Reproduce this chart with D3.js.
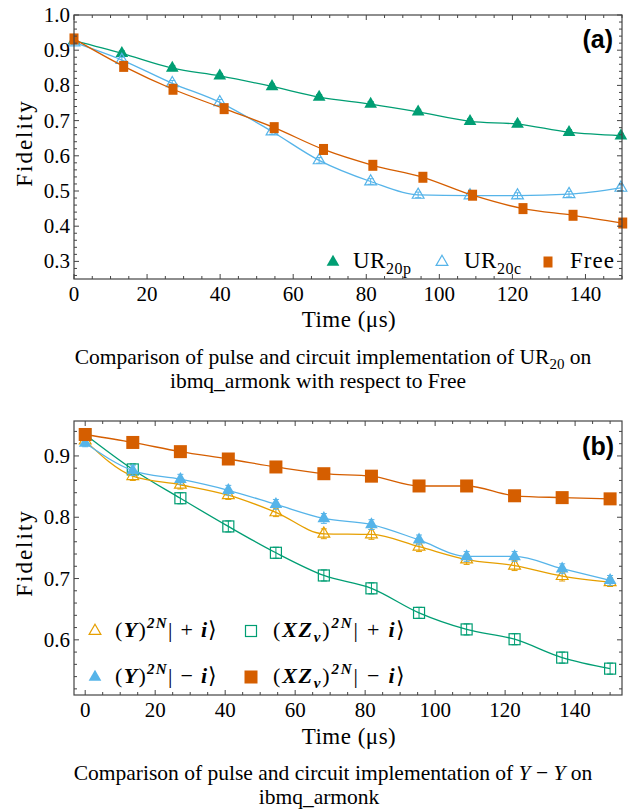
<!DOCTYPE html>
<html>
<head>
<meta charset="utf-8">
<script src="https://cdn.jsdelivr.net/npm/d3@7"></script>
<style>
  body { margin: 0; background: #fff; }
  svg { display: block; font-family: "Liberation Serif", serif; }
</style>
</head>
<body>
<svg id="chart" width="634" height="812"></svg>
<script>
// ---- panel (a) data ----
const timeTriA = [0, 13.1, 26.9, 39.9, 54.2, 67.1, 81.2, 94.2, 108.4, 121.4, 135.5, 149.7];
const timeFreeA = [0, 13.6, 27.1, 41.1, 54.8, 68.3, 81.8, 95.5, 109.1, 122.9, 136.6, 150.2];
const ur20p = [0.927, 0.891, 0.849, 0.827, 0.797, 0.767, 0.747, 0.725, 0.698, 0.690, 0.667, 0.657];
const ur20pErr = [0.006, 0.007, 0.007, 0.007, 0.007, 0.007, 0.007, 0.007, 0.007, 0.007, 0.007, 0.007];
const ur20c = [0.922, 0.872, 0.806, 0.752, 0.669, 0.587, 0.527, 0.489, 0.487, 0.487, 0.491, 0.509];
const ur20cErr = [0.006, 0.008, 0.008, 0.008, 0.008, 0.008, 0.008, 0.008, 0.008, 0.008, 0.008, 0.008];
const free = [0.932, 0.854, 0.789, 0.734, 0.680, 0.618, 0.573, 0.539, 0.488, 0.450, 0.431, 0.409];

// ---- panel (b) data ----
const timeB = [0, 13.6, 27.2, 40.9, 54.5, 68.2, 81.8, 95.4, 109, 122.7, 136.3, 150];
const yPlus = [0.925, 0.867, 0.853, 0.836, 0.808, 0.773, 0.772, 0.752, 0.731, 0.721, 0.704, 0.694];
const yPlusErr = [0.006, 0.007, 0.007, 0.007, 0.007, 0.008, 0.008, 0.008, 0.008, 0.008, 0.008, 0.007];
const yMinus = [0.921, 0.876, 0.862, 0.844, 0.821, 0.798, 0.788, 0.763, 0.736, 0.736, 0.716, 0.697];
const yMinusErr = [0.006, 0.008, 0.008, 0.008, 0.008, 0.008, 0.008, 0.008, 0.008, 0.008, 0.008, 0.008];
const xzPlus = [0.935, 0.878, 0.831, 0.785, 0.742, 0.705, 0.684, 0.644, 0.617, 0.601, 0.571, 0.553];
const xzPlusErr = [0.008, 0.009, 0.009, 0.009, 0.009, 0.009, 0.009, 0.009, 0.009, 0.009, 0.009, 0.009];
const xzMinus = [0.935, 0.922, 0.907, 0.895, 0.882, 0.871, 0.867, 0.851, 0.851, 0.835, 0.832, 0.830];

const yTicksA = [0.3, 0.4, 0.5, 0.6, 0.7, 0.8, 0.9, 1.0];
const yTicksB = [0.6, 0.7, 0.8, 0.9];
const xTicks = [0, 20, 40, 60, 80, 100, 120, 140];

const green = "#009E73", blue = "#56B4E9", orange = "#D55E00", yellow = "#E69F00";
const frameColor = "#444";

const svg = d3.select("#chart");

function drawFrame(g, x, y, yTicks, yMinorStep) {
    const [x0, x1] = x.range();
    const [y0, y1] = y.range(); // y0 bottom, y1 top
    g.append("rect")
        .attr("x", x0).attr("y", y1)
        .attr("width", x1 - x0).attr("height", y0 - y1)
        .attr("fill", "none").attr("stroke", frameColor).attr("stroke-width", 1.2);

    const [xa, xb] = x.domain();
    const xMinor = d3.range(Math.ceil(xa / 5) * 5, xb + 0.001, 5);
    xMinor.forEach(v => {
        const len = v % 20 === 0 ? 5 : 3;
        const px = x(v);
        g.append("line").attr("x1", px).attr("x2", px).attr("y1", y0).attr("y2", y0 - len)
            .attr("stroke", frameColor);
        g.append("line").attr("x1", px).attr("x2", px).attr("y1", y1).attr("y2", y1 + len)
            .attr("stroke", frameColor);
    });
    const [ya, yb] = y.domain();
    const yMinor = d3.range(Math.ceil(ya / yMinorStep - 1e-6) * yMinorStep, yb + 1e-6, yMinorStep);
    yMinor.forEach(v => {
        const major = yTicks.some(t => Math.abs(t - v) < 1e-6);
        const len = major ? 5 : 3;
        const py = y(v);
        g.append("line").attr("x1", x0).attr("x2", x0 + len).attr("y1", py).attr("y2", py)
            .attr("stroke", frameColor);
        g.append("line").attr("x1", x1).attr("x2", x1 - len).attr("y1", py).attr("y2", py)
            .attr("stroke", frameColor);
    });

    g.selectAll(null).data(xTicks.filter(v => v >= xa && v <= xb)).join("text")
        .attr("x", d => x(d)).attr("y", y0 + 22)
        .attr("text-anchor", "middle")
        .style("font-size", "21px")
        .text(d => d);

    g.selectAll(null).data(yTicks).join("text")
        .attr("x", x0 - 4).attr("y", d => y(d) + 7)
        .attr("text-anchor", "end")
        .style("font-size", "21px")
        .text(d => d3.format(".1f")(d));
}

function drawSeries(g, x, y, xs, ys, errs, color, marker, filled, size) {
    const pts = xs.map((t, i) => ({ t, v: ys[i], e: errs ? errs[i] : 0 }));
    g.append("path")
        .datum(pts)
        .attr("fill", "none").attr("stroke", color).attr("stroke-width", 1.3)
        .attr("d", d3.line().x(d => x(d.t)).y(d => y(d.v)).curve(d3.curveMonotoneX));

    if (errs) {
        pts.forEach(d => {
            const px = x(d.t);
            g.append("line").attr("x1", px).attr("x2", px)
                .attr("y1", y(d.v - d.e)).attr("y2", y(d.v + d.e))
                .attr("stroke", color).attr("stroke-width", 1);
            [d.v - d.e, d.v + d.e].forEach(v => {
                g.append("line").attr("x1", px - 3).attr("x2", px + 3)
                    .attr("y1", y(v)).attr("y2", y(v))
                    .attr("stroke", color).attr("stroke-width", 1);
            });
        });
    }

    pts.forEach(d => drawMarker(g, x(d.t), y(d.v), color, marker, filled, size));
}

function drawMarker(g, px, py, color, marker, filled, size) {
    if (marker === "tri") {
        g.append("path")
            .attr("transform", `translate(${px},${py})`)
            .attr("d", d3.symbol(d3.symbolTriangle, size[0]))
            .attr("fill", filled ? color : "none")
            .attr("stroke", color).attr("stroke-width", filled ? 0 : 1.2);
    } else {
        const [w, h] = size;
        g.append("rect")
            .attr("x", px - w / 2).attr("y", py - h / 2)
            .attr("width", w).attr("height", h)
            .attr("fill", filled ? color : "none")
            .attr("stroke", color).attr("stroke-width", filled ? 0 : 1.2);
    }
}

// math-ish label: parts = [[text, style, shift]]
function richText(g, px, py, parts, size, spacing) {
    const t = g.append("text").attr("x", px).attr("y", py)
        .style("font-size", size + "px")
        .style("letter-spacing", (spacing || 0) + "px");
    let prevShift = 0;
    parts.forEach(([s, style, shift]) => {
        shift = shift || 0;
        const sp = t.append("tspan").text(s).attr("dy", prevShift - shift);
        prevShift = shift;
        if (style && style.includes("i")) sp.style("font-style", "italic");
        if (style && style.includes("b")) sp.style("font-weight", "bold");
        if (shift !== 0) sp.style("font-size", Math.round(size * 0.68) + "px");
    });
    return t;
}

// ---------------- panel (a) ----------------
const xA = d3.scaleLinear().domain([0, 150]).range([74, 622]);
const yA = d3.scaleLinear().domain([0.25, 1.0]).range([279, 15]);
const gA = svg.append("g");

drawSeries(gA, xA, yA, timeTriA, ur20p, ur20pErr, green, "tri", true, [70]);
drawSeries(gA, xA, yA, timeTriA, ur20c, ur20cErr, blue, "tri", false, [60]);
drawSeries(gA, xA, yA, timeFreeA, free, null, orange, "sq", true, [9, 11]);
drawFrame(gA, xA, yA, yTicksA, 0.02);

gA.append("text").attr("x", 613).attr("y", 48).attr("text-anchor", "end")
    .style("font-family", "Liberation Sans, sans-serif").style("font-weight", "bold")
    .style("font-size", "25px").text("(a)");

drawMarker(gA, 333, 262, green, "tri", true, [70]);
richText(gA, 353, 268, [["UR"], ["20p", "", -6]], 23, 0.5);
drawMarker(gA, 442, 262, blue, "tri", false, [60]);
richText(gA, 464, 268, [["UR"], ["20c", "", -6]], 23, 0.5);
drawMarker(gA, 548, 262, orange, "sq", true, [9, 11]);
richText(gA, 570, 268, [["Free"]], 23, 1);

gA.append("text").attr("transform", "translate(32,143) rotate(-90)")
    .attr("text-anchor", "middle").style("font-size", "23px").style("letter-spacing", "2px")
    .text("Fidelity");
gA.append("text").attr("x", 349).attr("y", 327).attr("text-anchor", "middle")
    .style("font-size", "23px").style("letter-spacing", "0.5px").text("Time (μs)");

const capA1 = richText(gA, 333, 364, [["Comparison of pulse and circuit implementation of UR"], ["20", "", -5], [" on"]], 21.5);
capA1.attr("text-anchor", "middle");
gA.append("text").attr("x", 318).attr("y", 388).attr("text-anchor", "middle")
    .style("font-size", "21.5px").text("ibmq_armonk with respect to Free");

// ---------------- panel (b) ----------------
const xB = d3.scaleLinear().domain([-3.2, 153.4]).range([74, 622]);
const yB = d3.scaleLinear().domain([0.51, 0.957]).range([695, 421]);
const gB = svg.append("g");

drawSeries(gB, xB, yB, timeB, xzPlus, xzPlusErr, green, "sq", false, [11, 11]);
drawSeries(gB, xB, yB, timeB, yPlus, yPlusErr, yellow, "tri", false, [60]);
drawSeries(gB, xB, yB, timeB, yMinus, yMinusErr, blue, "tri", true, [70]);
drawSeries(gB, xB, yB, timeB, xzMinus, null, orange, "sq", true, [13, 13]);
drawFrame(gB, xB, yB, yTicksB, 0.02);

gB.append("text").attr("x", 614).attr("y", 455).attr("text-anchor", "end")
    .style("font-family", "Liberation Sans, sans-serif").style("font-weight", "bold")
    .style("font-size", "25px").text("(b)");

drawMarker(gB, 95, 631, yellow, "tri", false, [60]);
richText(gB, 115, 637, [["("], ["Y", "bi"], [")"], ["2N", "bi", 9], ["| + "], ["i", "bi"], ["⟩"]], 22, 1.3);
drawMarker(gB, 95, 677, blue, "tri", true, [70]);
richText(gB, 115, 683, [["("], ["Y", "bi"], [")"], ["2N", "bi", 9], ["| − "], ["i", "bi"], ["⟩"]], 22, 1.3);
drawMarker(gB, 251, 631, green, "sq", false, [11, 11]);
richText(gB, 273, 637, [["("], ["XZ", "bi"], ["v", "bi", -5], [")"], ["2N", "bi", 9], ["| + "], ["i", "bi"], ["⟩"]], 22, 1.8);
drawMarker(gB, 251, 677, orange, "sq", true, [13, 13]);
richText(gB, 273, 683, [["("], ["XZ", "bi"], ["v", "bi", -5], [")"], ["2N", "bi", 9], ["| − "], ["i", "bi"], ["⟩"]], 22, 1.8);

gB.append("text").attr("transform", "translate(32,553) rotate(-90)")
    .attr("text-anchor", "middle").style("font-size", "23px").style("letter-spacing", "2px")
    .text("Fidelity");
gB.append("text").attr("x", 349).attr("y", 744).attr("text-anchor", "middle")
    .style("font-size", "23px").style("letter-spacing", "0.5px").text("Time (μs)");

const capB1 = richText(gB, 333, 780, [["Comparison of pulse and circuit implementation of "], ["Y", "i"], [" − "], ["Y", "i"], [" on"]], 21.5);
capB1.attr("text-anchor", "middle");
gB.append("text").attr("x", 319).attr("y", 804).attr("text-anchor", "middle")
    .style("font-size", "21.5px").text("ibmq_armonk");
</script>
</body>
</html>
